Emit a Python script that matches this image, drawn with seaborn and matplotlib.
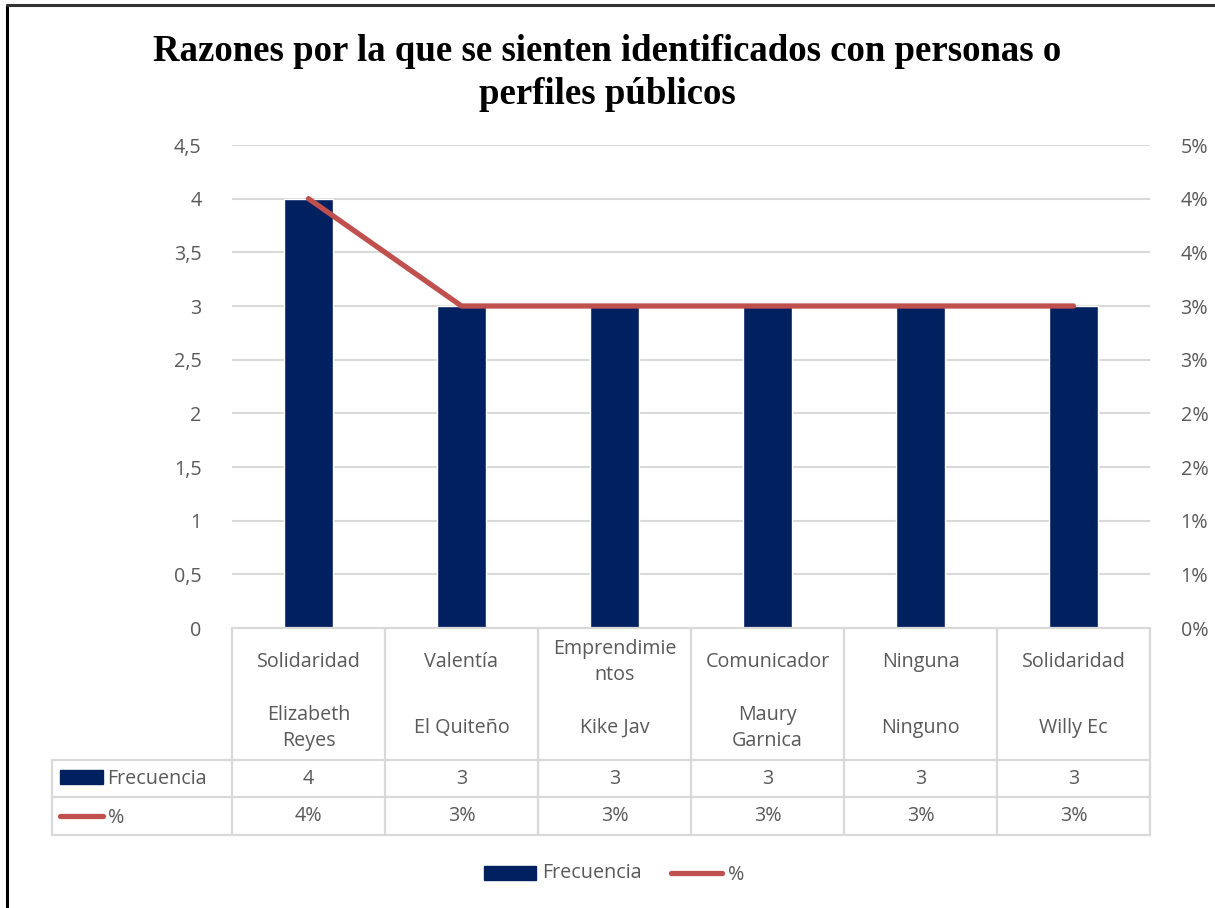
import numpy as np
import pandas as pd
import seaborn as sns
import matplotlib.pyplot as plt
from matplotlib.lines import Line2D
from matplotlib.patches import Rectangle

razones = ["Solidaridad", "Valentía", "Emprendimie\nntos", "Comunicador", "Ninguna", "Solidaridad"]
perfiles = ["Elizabeth\nReyes", "El Quiteño", "Kike Jav", "Maury\nGarnica", "Ninguno", "Willy Ec"]
frecuencia = [4, 3, 3, 3, 3, 3]
porcentaje = [0.04, 0.03, 0.03, 0.03, 0.03, 0.03]
pct_labels = ["4%", "3%", "3%", "3%", "3%", "3%"]
left_ticks = [0, 0.5, 1, 1.5, 2, 2.5, 3, 3.5, 4, 4.5]
left_ticklabels = ["0", "0,5", "1", "1,5", "2", "2,5", "3", "3,5", "4", "4,5"]
right_ticks = [0, 0.005, 0.01, 0.015, 0.02, 0.025, 0.03, 0.035, 0.04, 0.045]
right_ticklabels = ["0%", "1%", "1%", "2%", "2%", "3%", "3%", "4%", "4%", "5%"]

navy = "#002060"
red = "#C0504D"
grey_txt = "#595959"
grid_c = "#D9D9D9"
fs = 14.2

sns.set_style("white")
plt.rcParams['font.family'] = ['Open Sans', 'DejaVu Sans']

W, H = 1215, 908
fig = plt.figure(figsize=(W / 100, H / 100), dpi=100)

x0, x1, ytop, ybot = 232, 1150, 145, 628
ax = fig.add_axes([x0 / W, 1 - ybot / H, (x1 - x0) / W, (ybot - ytop) / H])

df = pd.DataFrame({"pos": np.arange(len(frecuencia)), "Frecuencia": frecuencia, "pct": porcentaje})
sns.barplot(data=df, x="pos", y="Frecuencia", color=navy, width=0.32, saturation=1, ax=ax)
ax.set_xlim(-0.5, len(frecuencia) - 0.5)
ax.set_ylim(0, 4.5)
ax.set_yticks(left_ticks)
ax.set_yticklabels(left_ticklabels)
ax.set_xticks([])
ax.set_xlabel("")
ax.set_ylabel("")
for y in left_ticks[1:]:
    ax.axhline(y, color=grid_c, lw=1.5, zorder=0)
for s in ax.spines.values():
    s.set_visible(False)
ax.tick_params(axis="y", length=0, pad=22, labelsize=fs, labelcolor=grey_txt)

ax2 = ax.twinx()
sns.lineplot(data=df, x="pos", y="pct", color=red, lw=3.8, ax=ax2)
ax2.set_ylim(0, 0.045)
ax2.set_yticks(right_ticks)
ax2.set_yticklabels(right_ticklabels)
ax2.set_xlim(-0.5, len(frecuencia) - 0.5)
ax2.set_ylabel("")
ax2.set_xlabel("")
for s in ax2.spines.values():
    s.set_visible(False)
ax2.tick_params(axis="y", length=0, pad=22, labelsize=fs, labelcolor=grey_txt)

# data table below the plot
axh = ybot - ytop
def ay(py):
    return (ybot - py) / axh

tr = ax.get_xaxis_transform()
n = len(frecuencia)
lc = "#D9D9D9"
lw = 1.6
y_cat_top, y_r1, y_r2, y_r3 = 628, 760, 797, 835
ax.add_line(Line2D([-0.5, n - 0.5], [ay(y_cat_top)] * 2, transform=tr, color=lc, lw=lw, clip_on=False))
for i in range(n + 1):
    ax.add_line(Line2D([i - 0.5, i - 0.5], [ay(y_cat_top), ay(y_r3)], transform=tr, color=lc, lw=lw, clip_on=False))
for yy in [y_r1, y_r2, y_r3]:
    fig.add_artist(Line2D([52 / W, x1 / W], [1 - yy / H] * 2, color=lc, lw=lw))
fig.add_artist(Line2D([52 / W, 52 / W], [1 - y_r1 / H, 1 - y_r3 / H], color=lc, lw=lw))

for i in range(n):
    ax.text(i, ay(662), razones[i], transform=tr, ha="center", va="center", fontsize=fs,
            color=grey_txt, linespacing=1.4)
    ax.text(i, ay(728), perfiles[i], transform=tr, ha="center", va="center", fontsize=fs,
            color=grey_txt, linespacing=1.4)
    ax.text(i, ay(779), str(frecuencia[i]), transform=tr, ha="center", va="center", fontsize=fs, color=grey_txt)
    ax.text(i, ay(816), pct_labels[i], transform=tr, ha="center", va="center", fontsize=fs, color=grey_txt)

# legend keys inside table
fig.add_artist(Rectangle((60 / W, 1 - 784 / H), 43 / W, 14 / H, color=navy))
fig.text(107 / W, 1 - 779 / H, "Frecuencia", ha="left", va="center", fontsize=fs, color=grey_txt)
fig.add_artist(Line2D([60 / W, 103 / W], [1 - 816 / H] * 2, color=red, lw=3.8))
fig.text(108 / W, 1 - 818 / H, "%", ha="left", va="center", fontsize=fs, color=grey_txt)

# bottom legend
fig.add_artist(Rectangle((484 / W, 1 - 880 / H), 52 / W, 14 / H, color=navy))
fig.text(542 / W, 1 - 873 / H, "Frecuencia", ha="left", va="center", fontsize=fs, color=grey_txt)
fig.add_artist(Line2D([671 / W, 722 / W], [1 - 873 / H] * 2, color=red, lw=3.8))
fig.text(728 / W, 1 - 875 / H, "%", ha="left", va="center", fontsize=fs, color=grey_txt)

# title
fig.text(0.5, 1 - 73 / H, "Razones por la que se sienten identificados con personas o\nperfiles públicos",
         ha="center", va="center", fontsize=26.5, fontweight="bold", family="Liberation Serif",
         color="black", linespacing=1.3)

# frame
fig.add_artist(Line2D([7 / W, 7 / W], [0, 1 - 5 / H], color="black", lw=2.2))
fig.add_artist(Line2D([7 / W, 1], [1 - 5 / H, 1 - 5 / H], color="#333333", lw=2.2))

fig.savefig("out.png", dpi=100, facecolor="white")
